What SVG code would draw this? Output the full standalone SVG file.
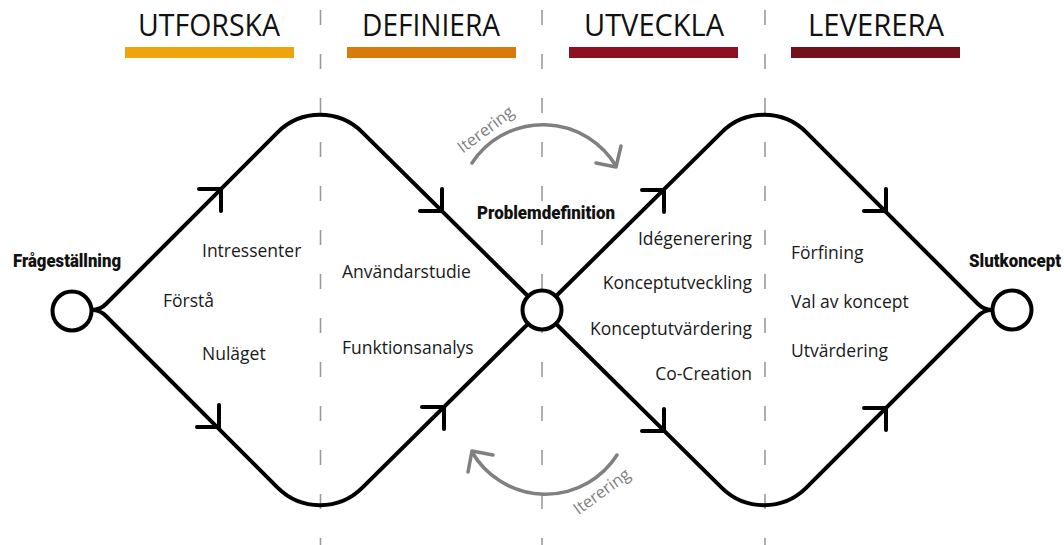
<svg xmlns="http://www.w3.org/2000/svg" width="1064" height="545" viewBox="0 0 1064 545">
<style>
.hdr{font-family:"Open Sans","Liberation Sans",sans-serif;font-size:31px;fill:#111;text-anchor:middle}
.lbl{font-family:"Open Sans","Liberation Sans",sans-serif;font-size:17.5px;fill:#1a1a1a}
.end{text-anchor:end}
.bold{font-family:Roboto,"Liberation Sans",sans-serif;font-weight:900;font-size:17.5px;fill:#111}
.dash{stroke:#9a9a9a;stroke-width:1.6;stroke-dasharray:15 29;fill:none}
.main{stroke:#000;stroke-width:4;fill:none;stroke-linejoin:round}
.arr{stroke:#000;stroke-width:4;fill:none;stroke-linecap:round;stroke-linejoin:miter}
.node{stroke:#000;stroke-width:4;fill:#fff}
.iter{stroke:#808080;stroke-width:3.5;fill:none;stroke-linecap:round;stroke-linejoin:round}
.itxt{font-family:"Open Sans","Liberation Sans",sans-serif;font-size:16.5px;fill:#808080;text-anchor:middle}
</style>
<defs>
<path id="aUR" d="M-22,0 L0,0 L0,22"/>
<path id="aDR" d="M-22,0 L0,0 L0,-22"/>
</defs>
<g id="phases">
<g id="phase-utforska"><text class="hdr" x="209" y="36" textLength="142" lengthAdjust="spacingAndGlyphs">UTFORSKA</text><rect x="125" y="47" width="169" height="11" fill="#F0A30A"/></g>
<g id="phase-definiera"><text class="hdr" x="431" y="36" textLength="138" lengthAdjust="spacingAndGlyphs">DEFINIERA</text><rect x="347" y="47" width="169" height="11" fill="#D97B0A"/></g>
<g id="phase-utveckla"><text class="hdr" x="654" y="36" textLength="140" lengthAdjust="spacingAndGlyphs">UTVECKLA</text><rect x="569" y="47" width="169" height="11" fill="#8E1121"/></g>
<g id="phase-leverera"><text class="hdr" x="876" y="36" textLength="136" lengthAdjust="spacingAndGlyphs">LEVERERA</text><rect x="791" y="47" width="169" height="11" fill="#74101C"/></g>
</g>
<g id="dividers">
<line class="dash" x1="320.5" y1="10" x2="320.5" y2="545"/>
<line class="dash" x1="542" y1="10" x2="542" y2="545"/>
<line class="dash" x1="765" y1="10" x2="765" y2="545"/>
</g>
<g id="connectors">
<path class="main" d="M92,310 Q100,310 106,304 L277.6,132.4 A60,60 0 0 1 362.4,132.4 L542,310 L721.6,132.4 A60,60 0 0 1 806.4,132.4 L978,304 Q984,310 992,310"/>
<path class="main" d="M92,310 Q100,310 106,316 L277.6,487.6 A60,60 0 0 0 362.4,487.6 L542,310 L721.6,487.6 A60,60 0 0 0 806.4,487.6 L978,316 Q984,310 992,310"/>
<use href="#aUR" class="arr" x="221" y="189"/>
<use href="#aDR" class="arr" x="219" y="427"/>
<use href="#aDR" class="arr" x="442" y="211"/>
<use href="#aUR" class="arr" x="444" y="407"/>
<use href="#aUR" class="arr" x="664" y="190"/>
<use href="#aDR" class="arr" x="664" y="431"/>
<use href="#aDR" class="arr" x="886" y="211"/>
<use href="#aUR" class="arr" x="886" y="408"/>
<g id="iteration-top">
<path class="iter" d="M472,163 A85,85 0 0 1 616,166"/>
<path class="iter" d="M621,146 L616,167 L596,163"/>
<text class="itxt" transform="translate(489,134) rotate(-37)">Iterering</text>
</g>
<g id="iteration-bottom">
<path class="iter" d="M617,455 A85,85 0 0 1 472,452"/>
<path class="iter" d="M468,472 L472,451 L493,455"/>
<text class="itxt" transform="translate(605,496) rotate(-36)">Iterering</text>
</g>
</g>
<g id="node-fragestallning">
<circle class="node" cx="72" cy="311" r="19.5"/>
<text class="bold" x="13" y="267" textLength="108" lengthAdjust="spacingAndGlyphs">Frågeställning</text>
</g>
<g id="node-problemdefinition">
<circle class="node" cx="542" cy="310" r="19.5"/>
<text class="bold" x="477" y="219" textLength="138" lengthAdjust="spacingAndGlyphs">Problemdefinition</text>
</g>
<g id="node-slutkoncept">
<circle class="node" cx="1012" cy="310" r="19.5"/>
<text class="bold" x="969" y="267" textLength="92" lengthAdjust="spacingAndGlyphs">Slutkoncept</text>
</g>
<g id="labels-utforska">
<text class="lbl" x="202" y="257">Intressenter</text>
<text class="lbl" x="163" y="307">Förstå</text>
<text class="lbl" x="202" y="360">Nuläget</text>
</g>
<g id="labels-definiera">
<text class="lbl" x="342" y="278">Användarstudie</text>
<text class="lbl" x="342" y="354">Funktionsanalys</text>
</g>
<g id="labels-utveckla">
<text class="lbl end" x="752" y="245">Idégenerering</text>
<text class="lbl end" x="752" y="289">Konceptutveckling</text>
<text class="lbl end" x="752" y="335">Konceptutvärdering</text>
<text class="lbl end" x="752" y="380">Co-Creation</text>
</g>
<g id="labels-leverera">
<text class="lbl" x="791" y="259">Förfining</text>
<text class="lbl" x="791" y="308">Val av koncept</text>
<text class="lbl" x="791" y="357">Utvärdering</text>
</g>
</svg>
